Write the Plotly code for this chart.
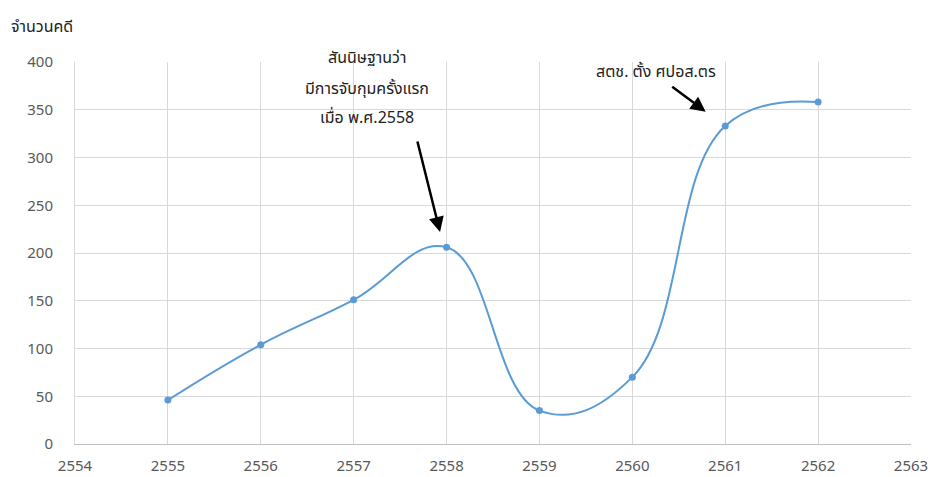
import plotly.graph_objects as go

years = [2555, 2556, 2557, 2558, 2559, 2560, 2561, 2562]
cases = [46, 104, 151, 206, 35, 70, 333, 358]
x_ticks = list(range(2554, 2564))
y_ticks = list(range(0, 401, 50))
note1_lines = ["สันนิษฐานว่า", "มีการจับกุมครั้งแรก", "เมื่อ พ.ศ.2558"]
note2 = "สตช. ตั้ง ศปอส.ตร"
y_title = "จำนวนคดี"

FONT = "Tahoma, 'Noto Sans Thai', 'Noto Sans', sans-serif"
GRID = "#d9d9d9"
L, R, T, B = 75, 17, 62, 33
W, H = 928, 477
PW, PH = W - L - R, H - T - B

fig = go.Figure()
fig.add_trace(go.Scatter(
    x=years, y=cases, mode="lines+markers",
    line=dict(color="#5B9BD5", width=2, shape="spline", smoothing=1.2),
    marker=dict(color="#5B9BD5", size=7),
    showlegend=False, hoverinfo="x+y",
))

fig.add_annotation(x=2557.93, y=222, xref="x", yref="y", ax=-23, ay=-92,
                   showarrow=True, arrowhead=2, arrowsize=1.2, arrowwidth=2.5,
                   arrowcolor="black", text="")
fig.add_annotation(x=2560.79, y=348, xref="x", yref="y", ax=-35, ay=-26,
                   showarrow=True, arrowhead=2, arrowsize=1.2, arrowwidth=2.5,
                   arrowcolor="black", text="")

def px_to_paper(px, py):
    return (px - L) / PW, 1 - (py - T) / PH

for line, py in zip(note1_lines, [58, 89, 118]):
    xp, yp = px_to_paper(367, py)
    fig.add_annotation(x=xp, y=yp, xref="paper", yref="paper", showarrow=False,
                       text=line, xanchor="center", yanchor="middle",
                       font=dict(family=FONT, size=16, color="#222"))
xp, yp = px_to_paper(656, 72)
fig.add_annotation(x=xp, y=yp, xref="paper", yref="paper", showarrow=False,
                   text=note2, xanchor="center", yanchor="middle",
                   font=dict(family=FONT, size=16, color="#222"))
xp, yp = px_to_paper(9, 27)
fig.add_annotation(x=xp, y=yp, xref="paper", yref="paper", showarrow=False,
                   text=y_title, xanchor="left", yanchor="middle",
                   font=dict(family=FONT, size=16, color="#222"))

fig.update_layout(
    width=W, height=H,
    margin=dict(l=L, r=R, t=T, b=B, autoexpand=False),
    paper_bgcolor="white", plot_bgcolor="white",
    font=dict(family=FONT, size=15, color="#595959"),
    xaxis=dict(range=[2554, 2563], tickvals=x_ticks, showgrid=True, gridcolor=GRID,
               zeroline=False, showline=True, linecolor="#bfbfbf", linewidth=1,
               ticks="", ticklabelstandoff=8, ticklabeloverflow="allow",
               fixedrange=True, automargin=False),
    yaxis=dict(range=[0, 400], tickvals=y_ticks, showgrid=True, gridcolor=GRID,
               zeroline=False, showline=True, linecolor=GRID, ticks="",
               ticklabelstandoff=18, fixedrange=True, automargin=False),
)

fig.write_html("out.html")
